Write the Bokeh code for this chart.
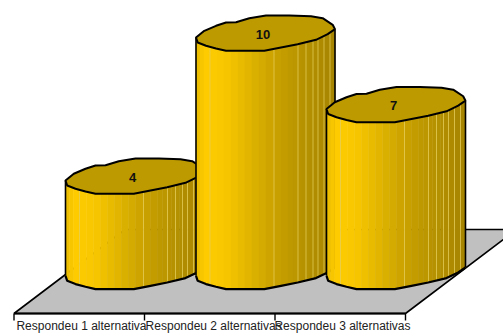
import numpy as np
from bokeh.core.properties import value
from bokeh.embed import file_html
from bokeh.models import Range1d
from bokeh.plotting import figure
from bokeh.resources import INLINE

categories = ["Respondeu 1  alternativa", "Respondeu 2 alternativas", "Respondeu 3  alternativas"]
values = [4, 10, 7]

# Drawing scale: pixels per category along x and per answer along y.
CAT_PX = 130.5
UNIT_PX = 23.83
BAR_INSET = 51.5
BAR_W = 139.0


def fx(cat, dx):
    return cat + (BAR_INSET + dx) / CAT_PX


def fy(val, dy):
    return val - dy / UNIT_PX


# Hand-drawn outline of a cylinder cap, as pixel offsets from its left point.
rim_back = [(0, 0), (8.3, -6.7), (20, -11.7), (30, -15), (40, -15.3), (53.3, -19.3), (70, -22),
            (93.3, -22), (115, -21.3), (126.7, -19.3), (136.7, -12.7), (139, -8.3)]
rim_front = [(0, 0), (1.7, 5), (10, 8.3), (20, 11), (30, 13.3), (50, 13.3), (68.3, 13.3),
             (85, 10), (101.7, 6.7), (120, 2.3), (131.7, -3.3), (139, -8.3)]
front_dx = np.array([q[0] for q in rim_front])
front_dy = np.array([q[1] for q in rim_front])

# Side shading, left to right across the cylinder.
shade_at = [0, 5, 9, 28, 60, 85, 110, 139]
shade_r = [232, 245, 255, 250, 218, 198, 182, 166]
shade_g = [186, 196, 204, 200, 176, 158, 146, 132]
edges = np.array([0, 4, 8, 14, 21, 28, 35, 42, 49, 56, 63, 70, 78, 85, 92, 97, 102, 106, 110,
                  114, 117, 122, 128, 134, 139], dtype=float)
pale_lines = [14, 78, 102, 110, 117, 122, 128, 134]

p = figure(width=503, height=333, output_backend="svg", toolbar_location=None,
           x_range=Range1d(-13.5 / CAT_PX, (503 - 13.5) / CAT_PX),
           y_range=Range1d(-57.7 / UNIT_PX, 275.3 / UNIT_PX),
           min_border=0, outline_line_color=None, background_fill_color="white")
p.xaxis.visible = False
p.yaxis.visible = False
p.grid.visible = False

# Floor of the 3D scene, its right corner runs past the frame.
FLOOR_FRONT = -37.7 / UNIT_PX
FLOOR_BACK = 46.3 / UNIT_PX
SKEW = 111.0 / CAT_PX
p.patch([0, 3.0, 3.0 + SKEW, SKEW], [FLOOR_FRONT, FLOOR_FRONT, FLOOR_BACK, FLOOR_BACK],
        fill_color="#C0C0C0", line_color="black", line_width=1.6)
p.line([0, 3.0], [FLOOR_FRONT, FLOOR_FRONT], line_color="black", line_width=2.2)
tick_len = 7 / UNIT_PX
for t in range(len(categories) + 1):
    p.line([t, t], [FLOOR_FRONT, FLOOR_FRONT - tick_len], line_color="black", line_width=1.4)

# Cylinders, painted from the left so each one overlaps the previous.
for i, v in enumerate(values):
    low_y = np.interp(edges, front_dx, front_dy)
    xs, ys, cols = [], [], []
    for k in range(len(edges) - 1):
        a, b = edges[k], edges[k + 1]
        ya, yb = low_y[k], low_y[k + 1]
        xs.append([fx(i, a), fx(i, b), fx(i, b), fx(i, a)])
        ys.append([fy(v, ya), fy(v, yb), fy(0, yb), fy(0, ya)])
        m = (a + b) / 2
        r = int(np.interp(m, shade_at, shade_r))
        g = int(np.interp(m, shade_at, shade_g))
        cols.append(f"#{r:02x}{g:02x}00")
    p.patches(xs, ys, fill_color=cols, line_color=cols, line_width=0.5)

    for d in pale_lines:
        yy = float(np.interp(d, front_dx, front_dy))
        p.line([fx(i, d), fx(i, d)], [fy(v, yy), fy(0, yy)],
               line_color="#E6CE5A", line_width=1, line_alpha=0.75)

    # base edge and the two silhouette sides
    p.line([fx(i, q[0]) for q in rim_front], [fy(0, q[1]) for q in rim_front],
           line_color="black", line_width=2.2)
    p.line([fx(i, 0), fx(i, 0)], [fy(v, 0), fy(0, 0)], line_color="black", line_width=1.6)
    p.line([fx(i, BAR_W), fx(i, BAR_W)], [fy(v, -8.3), fy(0, -8.3)],
           line_color="black", line_width=1.6)

    # cap of the cylinder
    cap = rim_back + rim_front[::-1][1:-1]
    p.patch([fx(i, q[0]) for q in cap], [fy(v, q[1]) for q in cap],
            fill_color="#BD9A00", line_color="black", line_width=2)

    p.text([fx(i, 67)], [fy(v, -3)], text=[str(v)], text_font=value("Liberation Sans"),
           text_font_style="bold", text_font_size="13px", text_color="#111111",
           text_align="center", text_baseline="middle")

# Category labels under the floor, just right of the middle between the ticks.
p.text([i + 0.53 for i in range(len(categories))], [-50.5 / UNIT_PX] * len(categories),
       text=categories, text_font=value("Liberation Sans"), text_font_size="12px",
       text_color="#222222", text_align="center", text_baseline="middle")

open("out.html", "w").write(file_html(p, INLINE))
